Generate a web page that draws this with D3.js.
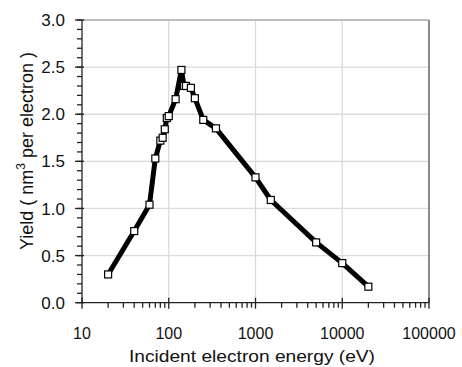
<!DOCTYPE html>
<html>
<head>
<meta charset="utf-8">
<script src="https://cdn.jsdelivr.net/npm/d3@7"></script>
<style>
  body { margin: 0; background: #fff; }
  text { font-family: "Liberation Sans", Arial, sans-serif; fill: #111; }
</style>
</head>
<body>
<div class="chart"></div>
<script>
// incident electron energy (eV) and yield (nm^3 per electron)
const energy = [20, 40, 60, 70, 80, 85, 90, 95, 100, 120, 140, 150, 158, 180, 200, 250, 350, 1000, 1500, 5000, 10000, 20000];
const yieldVals = [0.30, 0.76, 1.04, 1.53, 1.72, 1.75, 1.84, 1.96, 1.98, 2.16, 2.47, 2.30, 2.30, 2.28, 2.17, 1.94, 1.85, 1.33, 1.09, 0.64, 0.42, 0.17];
const xTicks = [10, 100, 1000, 10000, 100000];
const yTicks = [0, 0.5, 1.0, 1.5, 2.0, 2.5, 3.0];

const width = 462, height = 367;
const margin = {top: 20, right: 33, bottom: 65, left: 82};

const data = energy.map((e, i) => ({x: e, y: yieldVals[i]}));

const x = d3.scaleLog().domain([10, 100000]).range([margin.left, width - margin.right]);
const y = d3.scaleLinear().domain([0, 3]).range([height - margin.bottom + 0.7, margin.top]);

const svg = d3.select(".chart").append("svg")
  .attr("width", width)
  .attr("height", height);

// grid
svg.append("g")
  .attr("stroke", "#dadada")
  .attr("stroke-width", 1.3)
  .call(g => g.selectAll("line.gx").data(xTicks.slice(1, -1)).join("line")
    .attr("x1", d => x(d)).attr("x2", d => x(d))
    .attr("y1", y(0)).attr("y2", y(3)))
  .call(g => g.selectAll("line.gy").data(yTicks.slice(1)).join("line")
    .attr("x1", x(10)).attr("x2", x(100000))
    .attr("y1", d => y(d)).attr("y2", d => y(d)));

// frame top / right
svg.append("line")
  .attr("x1", x(10)).attr("x2", x(100000))
  .attr("y1", y(3)).attr("y2", y(3))
  .attr("stroke", "#b0b0b0").attr("stroke-width", 1.3);
svg.append("line")
  .attr("x1", x(100000)).attr("x2", x(100000))
  .attr("y1", y(3)).attr("y2", y(0))
  .attr("stroke", "#8a8a8a").attr("stroke-width", 2);

// x axis
const xMinor = [];
for (let d = 10; d < 100000; d *= 10)
  for (let k = 2; k <= 9; k++) xMinor.push(d * k);

const xAxis = svg.append("g").attr("stroke", "#222").attr("stroke-width", 1.3);
xAxis.append("line")
  .attr("x1", x(10)).attr("x2", x(100000))
  .attr("y1", y(0)).attr("y2", y(0));
xAxis.selectAll("line.minor").data(xMinor).join("line")
  .attr("x1", d => x(d)).attr("x2", d => x(d))
  .attr("y1", y(0)).attr("y2", y(0) + 5);
xAxis.selectAll("line.major").data(xTicks).join("line")
  .attr("x1", d => x(d)).attr("x2", d => x(d))
  .attr("y1", y(0) - 5).attr("y2", y(0) + 6);

svg.append("g")
  .attr("font-size", 16)
  .attr("text-anchor", "middle")
  .selectAll("text").data(xTicks).join("text")
  .attr("x", d => x(d))
  .attr("y", y(0) + 36)
  .text(d => d);

// y axis
const yMinor = d3.range(0, 31).map(i => i / 10);
const yAxis = svg.append("g").attr("stroke", "#222").attr("stroke-width", 1.3);
yAxis.append("line")
  .attr("x1", x(10)).attr("x2", x(10))
  .attr("y1", y(0)).attr("y2", y(3));
yAxis.selectAll("line.minor").data(yMinor).join("line")
  .attr("x1", x(10) - 5).attr("x2", x(10))
  .attr("y1", d => y(d)).attr("y2", d => y(d));
yAxis.selectAll("line.major").data(yTicks).join("line")
  .attr("x1", x(10) - 7).attr("x2", x(10) + 2)
  .attr("y1", d => y(d)).attr("y2", d => y(d));

svg.append("g")
  .attr("font-size", 17)
  .attr("text-anchor", "end")
  .selectAll("text").data(yTicks).join("text")
  .attr("x", x(10) - 17)
  .attr("y", d => y(d))
  .attr("dy", "0.36em")
  .text(d => d.toFixed(1));

// axis titles
svg.append("text")
  .attr("x", 252)
  .attr("y", 362)
  .attr("font-size", 17)
  .attr("text-anchor", "middle")
  .attr("textLength", 246)
  .attr("lengthAdjust", "spacingAndGlyphs")
  .text("Incident electron energy (eV)");

const yt = svg.append("text")
  .attr("transform", "translate(33,151) rotate(-90)")
  .attr("font-size", 18)
  .attr("text-anchor", "middle");
yt.append("tspan").text("Yield ( nm");
yt.append("tspan").attr("font-size", 12).attr("dy", -8).text("3");
yt.append("tspan").attr("dy", 8).text(" per electron )");

// series
const line = d3.line().x(d => x(d.x)).y(d => y(d.y));
svg.append("path")
  .datum(data)
  .attr("fill", "none")
  .attr("stroke", "#000")
  .attr("stroke-width", 5)
  .attr("stroke-linejoin", "round")
  .attr("d", line);

svg.append("g")
  .selectAll("rect").data(data).join("rect")
  .attr("x", d => x(d.x) - 3.5)
  .attr("y", d => y(d.y) - 3.5)
  .attr("width", 7)
  .attr("height", 7)
  .attr("fill", "#fff")
  .attr("stroke", "#000")
  .attr("stroke-width", 1.2);
</script>
</body>
</html>
